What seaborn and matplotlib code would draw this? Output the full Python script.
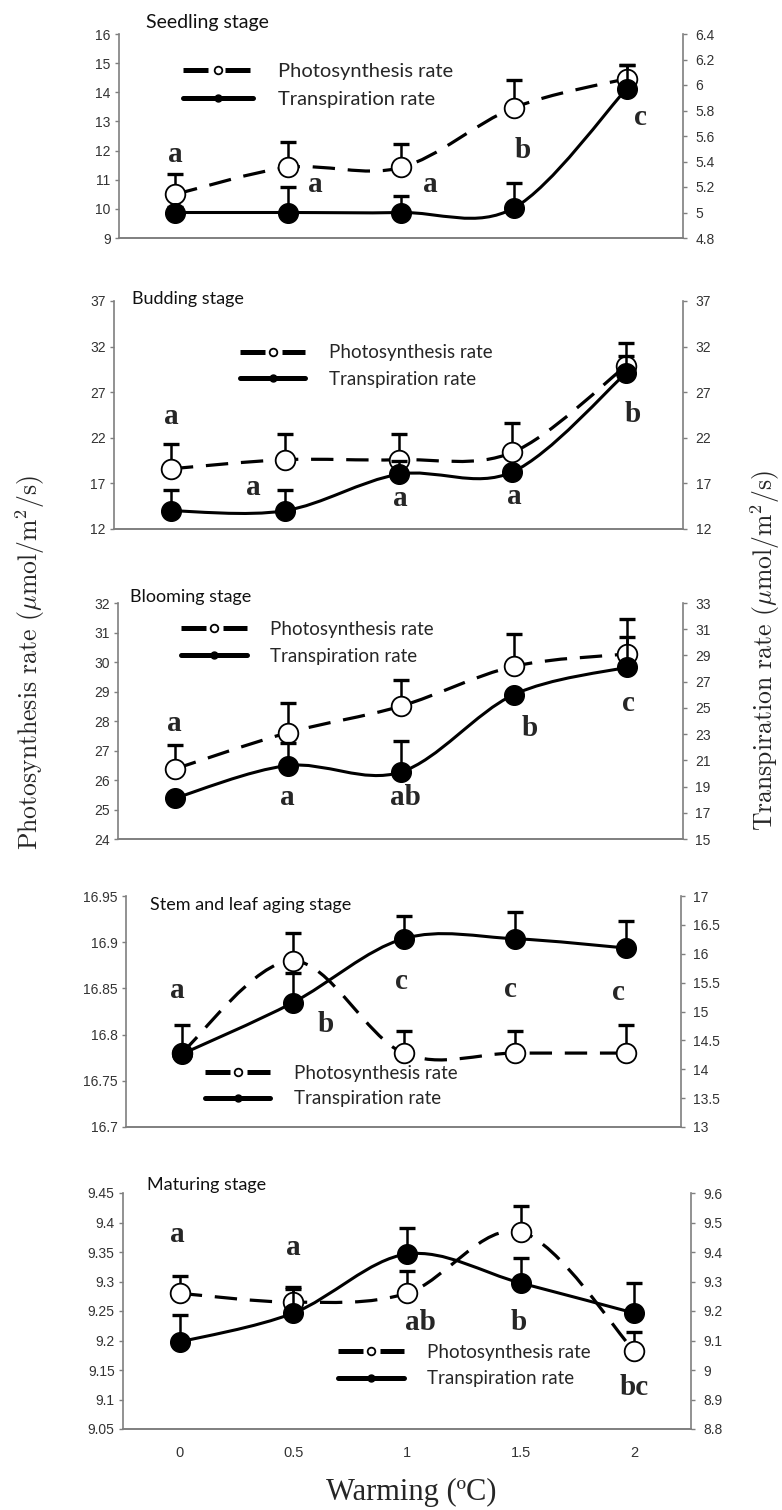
import numpy as np
import matplotlib
matplotlib.use('Agg')
import matplotlib.pyplot as plt
from matplotlib.path import Path
from matplotlib.patches import PathPatch
from matplotlib.lines import Line2D
import seaborn as sns

# x categories
warming = [0, 0.5, 1, 1.5, 2]
warming_labels = ['0', '0.5', '1', '1.5', '2']

# seedling stage
seedling_photo = [10.5, 11.42, 11.42, 13.47, 14.47]
seedling_photo_err = [0.7, 0.88, 0.8, 0.95, 0.45]
seedling_transp = [5.0, 5.0, 5.0, 5.035, 5.97]
seedling_transp_err = [0.04, 0.2, 0.13, 0.2, 0.19]
seedling_letters = ['a', 'a', 'a', 'b', 'c']

# budding stage
budding_photo = [18.6, 19.6, 19.6, 20.4, 29.9]
budding_photo_err = [2.7, 2.8, 2.8, 3.2, 2.5]
budding_transp = [14.0, 14.0, 18.0, 18.25, 29.1]
budding_transp_err = [2.3, 2.3, 1.5, 0.3, 1.9]
budding_letters = ['a', 'a', 'a', 'a', 'b']

# blooming stage
blooming_photo = [26.37, 27.6, 28.5, 29.85, 30.27]
blooming_photo_err = [0.83, 1.0, 0.9, 1.1, 1.18]
blooming_transp = [18.1, 20.6, 20.1, 26.0, 28.1]
blooming_transp_err = [0.3, 1.7, 2.4, 0.3, 2.3]
blooming_letters = ['a', 'a', 'ab', 'b', 'c']

# stem and leaf aging stage
aging_photo = [16.78, 16.88, 16.78, 16.78, 16.78]
aging_photo_err = [0.03, 0.03, 0.024, 0.024, 0.03]
aging_transp = [14.26, 15.15, 16.26, 16.26, 16.1]
aging_transp_err = [0.1, 0.52, 0.39, 0.46, 0.47]
aging_letters = ['a', 'b', 'c', 'c', 'c']

# maturing stage
maturing_photo = [9.28, 9.265, 9.28, 9.384, 9.182]
maturing_photo_err = [0.03, 0.025, 0.038, 0.044, 0.032]
maturing_transp = [9.095, 9.193, 9.393, 9.295, 9.193]
maturing_transp_err = [0.091, 0.08, 0.087, 0.085, 0.102]
maturing_letters = ['a', 'a', 'ab', 'b', 'bc']

sns.set_style('white')
plt.rcParams['mathtext.fontset'] = 'cm'

W, H = 782, 1510
fig = plt.figure(figsize=(W / 100, H / 100), dpi=100)

panels = [
    dict(title='Seedling stage', box=(119, 683, 34, 238),
         photo=seedling_photo, photo_err=seedling_photo_err,
         transp=seedling_transp, transp_err=seedling_transp_err,
         letters=seedling_letters,
         letter_xy=[(0, 11.85), (0.62, 10.82), (1.13, 10.85), (1.54, 11.99), (2.06, 13.15)],
         left=(9, 16, 1), right=(4.8, 6.4, 0.2),
         title_xy=(0.048, 1.054), title_size=14,
         leg_xy=(0.113, 0.86), leg_size=14.5, leg_spacing=0.55),
    dict(title='Budding stage', box=(114, 683, 301, 529),
         photo=budding_photo, photo_err=budding_photo_err,
         transp=budding_transp, transp_err=budding_transp_err,
         letters=budding_letters,
         letter_xy=[(0, 24.3), (0.36, 16.5), (1.01, 15.3), (1.51, 15.6), (2.03, 24.5)],
         left=(12, 37, 5), right=(12, 37, 5),
         title_xy=(0.032, 1.009), title_size=13,
         leg_xy=(0.221, 0.81), leg_size=13.5, leg_spacing=0.5),
    dict(title='Blooming stage', box=(118, 683, 603, 839),
         photo=blooming_photo, photo_err=blooming_photo_err,
         transp=blooming_transp, transp_err=blooming_transp_err,
         letters=blooming_letters,
         letter_xy=[(0, 27.93), (0.5, 25.39), (1.02, 25.39), (1.57, 27.76), (2.01, 28.58)],
         left=(24, 32, 1), right=(15, 33, 2),
         title_xy=(0.021, 1.025), title_size=13,
         leg_xy=(0.112, 0.925), leg_size=13.5, leg_spacing=0.55),
    dict(title='Stem and leaf aging stage', box=(126, 681, 896, 1127),
         photo=aging_photo, photo_err=aging_photo_err,
         transp=aging_transp, transp_err=aging_transp_err,
         letters=aging_letters,
         letter_xy=[(-0.02, 16.848), (0.65, 16.811), (0.99, 16.857), (1.48, 16.849), (1.97, 16.846)],
         left=(16.7, 16.95, 0.05), right=(13, 17, 0.5),
         title_xy=(0.043, 0.961), title_size=13,
         leg_xy=(0.142, 0.27), leg_size=13.5, leg_spacing=0.45),
    dict(title='Maturing stage', box=(123, 691, 1193, 1429),
         photo=maturing_photo, photo_err=maturing_photo_err,
         transp=maturing_transp, transp_err=maturing_transp_err,
         letters=maturing_letters,
         letter_xy=[(-0.01, 9.38), (0.5, 9.357), (1.06, 9.23), (1.49, 9.23), (2.0, 9.12)],
         left=(9.05, 9.45, 0.05), right=(8.8, 9.6, 0.1),
         title_xy=(0.042, 1.034), title_size=13,
         leg_xy=(0.379, 0.36), leg_size=13.5, leg_spacing=0.5),
]


def smooth_path(xs, ys):
    # Excel-like smoothed line: cubic Bezier through the points
    pts = np.column_stack([xs, ys]).astype(float)
    n = len(pts)
    verts = [pts[0]]
    codes = [Path.MOVETO]
    for i in range(n - 1):
        p0 = pts[max(i - 1, 0)]
        p3 = pts[min(i + 2, n - 1)]
        c1 = pts[i] + (pts[i + 1] - p0) / 6
        c2 = pts[i + 1] - (p3 - pts[i]) / 6
        verts += [c1, c2, pts[i + 1]]
        codes += [Path.CURVE4] * 3
    return Path(verts, codes)


def fmt(v):
    return '{:g}'.format(round(v, 3))


spine_color = '#7f7f7f'
tick_color = '#333333'

for k, p in enumerate(panels):
    x0, x1, y0, y1 = p['box']
    ax = fig.add_axes([x0 / W, 1 - y1 / H, (x1 - x0) / W, (y1 - y0) / H])
    ax2 = ax.twinx()
    last = k == len(panels) - 1

    # photosynthesis (left axis, open circles, dashed)
    ax.add_patch(PathPatch(smooth_path(warming, p['photo']), fill=False,
                           edgecolor='black', lw=2.3, linestyle=(0, (7, 4)),
                           capstyle='butt', zorder=2))
    ax.errorbar(warming, p['photo'], yerr=[np.zeros(5), p['photo_err']],
                fmt='none', ecolor='black', elinewidth=1.8, capsize=6,
                capthick=2.4, zorder=3)
    sns.scatterplot(x=warming, y=p['photo'], ax=ax, s=200, color='white',
                    edgecolor='black', linewidth=1.3, zorder=4, legend=False)

    # transpiration (right axis, filled circles, solid)
    ax2.add_patch(PathPatch(smooth_path(warming, p['transp']), fill=False,
                            edgecolor='black', lw=2.2, zorder=2))
    ax2.errorbar(warming, p['transp'], yerr=[np.zeros(5), p['transp_err']],
                 fmt='none', ecolor='black', elinewidth=1.8, capsize=6,
                 capthick=2.4, zorder=3)
    sns.scatterplot(x=warming, y=p['transp'], ax=ax2, s=200, color='black',
                    edgecolor='black', linewidth=1.0, zorder=4, legend=False)

    # significance letters (placed in left-axis units)
    for (lx, ly), s in zip(p['letter_xy'], p['letters']):
        ax2.text(lx, ly, s, transform=ax.transData, ha='center', va='center',
                 fontsize=21, fontweight='bold', family='Liberation Serif', zorder=6)

    # axes
    lo, hi, st = p['left']
    lt = np.arange(lo, hi + st / 2, st)
    ax.set_ylim(lo, hi)
    ax.set_yticks(lt)
    ax.set_yticklabels([fmt(v) for v in lt])
    lo2, hi2, st2 = p['right']
    rt = np.arange(lo2, hi2 + st2 / 2, st2)
    ax2.set_ylim(lo2, hi2)
    ax2.set_yticks(rt)
    ax2.set_yticklabels([fmt(v) for v in rt])
    ax.set_xlim(-0.25, 2.25)
    ax.set_xticks([0.25, 0.75, 1.25, 1.75])
    ax.set_xticklabels([])
    ax.set_xticks(warming, minor=True)
    ax.set_xticklabels(warming_labels if last else [''] * 5, minor=True)
    for a in (ax, ax2):
        a.set_xlabel('')
        a.set_ylabel('')
        for side in a.spines:
            a.spines[side].set_color(spine_color)
            a.spines[side].set_linewidth(1.2)
        a.spines['top'].set_visible(False)
        a.grid(False)
    ax.spines['right'].set_visible(False)
    ax2.spines['left'].set_visible(False)
    ax.tick_params(axis='y', which='major', direction='out', length=3,
                   width=1, color=spine_color, labelsize=10,
                   labelcolor=tick_color, pad=3)
    ax2.tick_params(axis='y', which='major', direction='out', length=3,
                    width=1, color=spine_color, labelsize=10,
                    labelcolor=tick_color, pad=6)
    ax.tick_params(axis='x', which='major', direction='in', length=4,
                   width=1, color=spine_color)
    ax.tick_params(axis='x', which='minor', length=0, labelsize=10.5,
                   labelcolor=tick_color, pad=12)
    for lab in ax.get_yticklabels() + ax2.get_yticklabels() + ax.get_xticklabels(minor=True):
        lab.set_family('Liberation Sans')

    # stage title
    ax.text(p['title_xy'][0], p['title_xy'][1], p['title'], transform=ax.transAxes,
            ha='left', va='center', fontsize=p['title_size'], family='Lato',
            color='#111111')

    # legend
    h_photo = Line2D([], [], color='black', lw=3.6, dashes=(5.0, 3.4),
                     marker='o', ms=5.5, mfc='white', mec='black', mew=1.3)
    h_transp = Line2D([], [], color='black', lw=3.6, marker='o', ms=5,
                      mfc='black', mec='black')
    leg = ax2.legend([h_photo, h_transp], ['Photosynthesis rate', 'Transpiration rate'],
                     loc='upper left', bbox_to_anchor=p['leg_xy'], frameon=False,
                     prop={'family': 'Lato', 'size': p['leg_size']},
                     handlelength=3.5, handletextpad=1.25, numpoints=1,
                     labelspacing=p['leg_spacing'], borderpad=0, borderaxespad=0)
    leg.set_zorder(7)

fig.text(30 / W, 1 - 662 / H, r'Photosynthesis rate ($\mu$mol/m$^2$/s)',
         rotation=90, ha='center', va='center', fontsize=18.5,
         family=['cmr10', 'DejaVu Serif'])
fig.text(765 / W, 1 - 650 / H, r'Transpiration rate ($\mu$mol/m$^2$/s)',
         rotation=90, ha='center', va='center', fontsize=18.5,
         family=['cmr10', 'DejaVu Serif'])
fig.text(411 / W, 1 - 1492 / H, 'Warming (ºC)', ha='center', va='center',
         fontsize=22, family='Liberation Serif')

fig.savefig('out.png', dpi=100, facecolor='white')
